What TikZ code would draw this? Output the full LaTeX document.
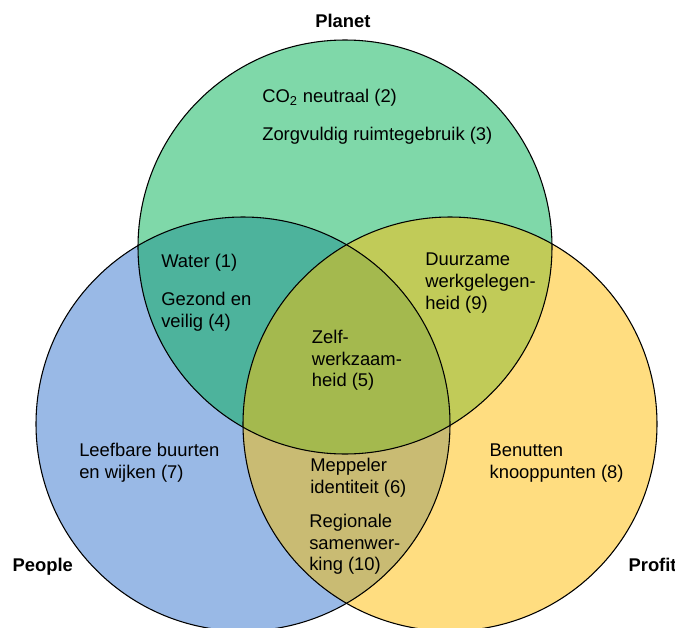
\documentclass[tikz,border=0pt]{standalone}
\usepackage{fontspec}
\setmainfont{Liberation Sans}
\definecolor{cplanet}{HTML}{7FD8A9}
\definecolor{cpeople}{HTML}{99B9E6}
\definecolor{cprofit}{HTML}{FFDD80}
\definecolor{cpp}{HTML}{4DB39C}
\definecolor{cplpr}{HTML}{C1CB58}
\definecolor{cpepr}{HTML}{C9BB73}
\definecolor{call}{HTML}{A4B94E}
\tikzset{
  lbl/.style={anchor=base west, inner sep=0pt, font=\fontsize{13.8}{16.2}\selectfont},
  title/.style={anchor=base west, inner sep=0pt, font=\fontsize{13.8}{16.2}\selectfont\bfseries},
  ring/.style={draw=black, line width=0.8pt},
}
\begin{document}
\begin{tikzpicture}[x=0.75pt,y=-0.75pt]
\clip (0,0) rectangle (675,628);
\useasboundingbox (0,0) rectangle (675,628);
\coordinate (cP) at (345,247);
\coordinate (cL) at (243,424);
\coordinate (cR) at (450,424);
\def\rr{155.25pt}
% base fills
\fill[cplanet] (cP) circle[radius=\rr];
\fill[cpeople] (cL) circle[radius=\rr];
\fill[cprofit] (cR) circle[radius=\rr];
% pairwise overlaps
\begin{scope}
  \clip (cP) circle[radius=\rr];
  \fill[cpp] (cL) circle[radius=\rr];
  \fill[cplpr] (cR) circle[radius=\rr];
\end{scope}
\begin{scope}
  \clip (cL) circle[radius=\rr];
  \fill[cpepr] (cR) circle[radius=\rr];
  \clip (cR) circle[radius=\rr];
  \fill[call] (cP) circle[radius=\rr];
\end{scope}
% outlines
\draw[ring] (cP) circle[radius=\rr];
\draw[ring] (cL) circle[radius=\rr];
\draw[ring] (cR) circle[radius=\rr];
% titles
\node[title] (tplanet) at (315,27.3) {Planet};
\node[title] (tpeople) at (12.3,571.7) {People};
\node[title] (tprofit) at (628.3,571.7) {Profit};
% planet only
\node[lbl] (co2) at (262,102.7) {CO\textsubscript{2} neutraal (2)};
\node[lbl] (zorg) at (262,140.3) {Zorgvuldig ruimtegebruik (3)};
% planet & people
\node[lbl] (water) at (161,267.3) {Water (1)};
\node[lbl] (gez1) at (161,305.7) {Gezond en};
\node[lbl] (gez2) at (161,327.3) {veilig (4)};
% planet & profit
\node[lbl] (duu1) at (425,265) {Duurzame};
\node[lbl] (duu2) at (425,287) {werkgelegen-};
\node[lbl] (duu3) at (425,309) {heid (9)};
% all
\node[lbl] (zel1) at (311.7,343.3) {Zelf-};
\node[lbl] (zel2) at (311.7,365) {werkzaam-};
\node[lbl] (zel3) at (311.7,386.7) {heid (5)};
% people only
\node[lbl] (lee1) at (79,456) {Leefbare buurten};
\node[lbl] (lee2) at (79,478) {en wijken (7)};
% profit only
\node[lbl] (ben1) at (489.3,456) {Benutten};
\node[lbl] (ben2) at (489.3,478) {knooppunten (8)};
% people & profit
\node[lbl] (mep1) at (310,471.7) {Meppeler};
\node[lbl] (mep2) at (310,493.3) {identiteit (6)};
\node[lbl] (reg1) at (309,527.3) {Regionale};
\node[lbl] (reg2) at (309,549.3) {samenwer-};
\node[lbl] (reg3) at (309,570.7) {king (10)};
\end{tikzpicture}
\end{document}
